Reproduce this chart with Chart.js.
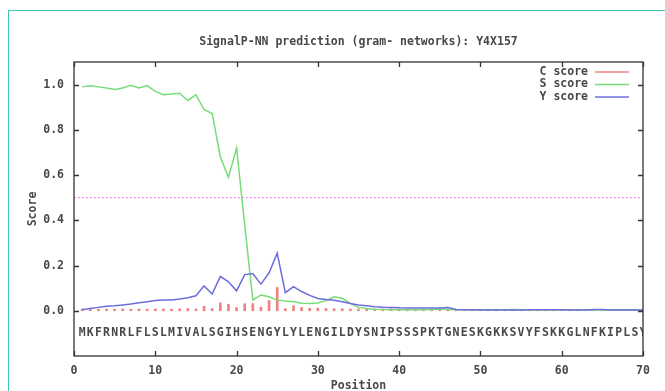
<!DOCTYPE html>
<html>
<head>
<meta charset="utf-8">
<script src="https://cdn.jsdelivr.net/npm/chart.js@4.4.1/dist/chart.umd.min.js"></script>
<style>
    html, body { margin: 0; padding: 0; background: #fff; overflow: hidden; }
    #frame { position: absolute; left: 8px; top: 10px; width: 720px; height: 440px;
             border-left: 1.5px solid #40c8b4; border-top: 1.5px solid #40c8b4; }
    canvas { position: absolute; left: 0; top: 0; }
</style>
</head>
<body>
<div id="frame"></div>
<canvas id="chart" width="665" height="391"></canvas>
<script>
const chartTitle = 'SignalP-NN prediction (gram- networks): Y4X157';
const sequence = 'MKFRNRLFLSLMIVALSGIHSENGYLYLENGILDYSNIPSSSPKTGNESKGKKSVYFSKKGLNFKIPLSY';

const positions = [1, 2, 3, 4, 5, 6, 7, 8, 9, 10, 11, 12, 13, 14, 15, 16, 17, 18, 19, 20,
    21, 22, 23, 24, 25, 26, 27, 28, 29, 30, 31, 32, 33, 34, 35, 36, 37, 38, 39, 40,
    41, 42, 43, 44, 45, 46, 47, 48, 49, 50, 51, 52, 53, 54, 55, 56, 57, 58, 59, 60,
    61, 62, 63, 64, 65, 66, 67, 68, 69, 70];

const cScore = [0.008, 0.008, 0.007, 0.008, 0.007, 0.008, 0.007, 0.008, 0.007, 0.008,
    0.008, 0.007, 0.008, 0.010, 0.008, 0.020, 0.010, 0.035, 0.029, 0.014,
    0.031, 0.032, 0.016, 0.045, 0.103, 0.009, 0.022, 0.014, 0.011, 0.012,
    0.010, 0.009, 0.009, 0.008, 0.008, 0.009, 0.008, 0.008, 0.009, 0.008,
    0.007, 0.007, 0.007, 0.007, 0.007, 0.007, 0.006, 0.006, 0.006, 0.006,
    0.006, 0.006, 0.006, 0.006, 0.006, 0.006, 0.006, 0.006, 0.006, 0.006,
    0.006, 0.006, 0.006, 0.006, 0.006, 0.006, 0.006, 0.006, 0.006, 0.006];

const sScore = [0.990, 0.995, 0.990, 0.985, 0.978, 0.985, 0.997, 0.985, 0.996, 0.970,
    0.955, 0.958, 0.962, 0.930, 0.955, 0.890, 0.872, 0.680, 0.590, 0.720,
    0.380, 0.048, 0.070, 0.062, 0.047, 0.043, 0.040, 0.033, 0.032, 0.034,
    0.045, 0.062, 0.055, 0.033, 0.015, 0.010, 0.007, 0.006, 0.005, 0.005,
    0.005, 0.005, 0.005, 0.006, 0.008, 0.006, 0.005, 0.004, 0.004, 0.003,
    0.003, 0.003, 0.004, 0.006, 0.005, 0.003, 0.003, 0.003, 0.003, 0.003,
    0.003, 0.003, 0.003, 0.003, 0.003, 0.003, 0.003, 0.003, 0.003, 0.003];

const yScore = [0.005, 0.010, 0.015, 0.020, 0.022, 0.026, 0.030, 0.035, 0.040, 0.045,
    0.048, 0.048, 0.052, 0.058, 0.066, 0.110, 0.074, 0.152, 0.128, 0.088,
    0.160, 0.165, 0.118, 0.168, 0.255, 0.080, 0.107, 0.085, 0.068, 0.054,
    0.050, 0.047, 0.040, 0.032, 0.026, 0.022, 0.018, 0.016, 0.015, 0.013,
    0.012, 0.012, 0.012, 0.012, 0.012, 0.014, 0.006, 0.005, 0.004, 0.003,
    0.003, 0.003, 0.003, 0.003, 0.003, 0.005, 0.005, 0.005, 0.005, 0.005,
    0.003, 0.003, 0.003, 0.006, 0.006, 0.003, 0.003, 0.003, 0.003, 0.003];

const cutoff = 0.5;
const cutoffRange = [0, 70];
const xTicks = [0, 10, 20, 30, 40, 50, 60, 70];
const yTicks = [0.0, 0.2, 0.4, 0.6, 0.8, 1.0];
const sequenceLevel = -0.1;

const FONT = "'DejaVu Sans Mono', 'Liberation Mono', monospace";
const FSIZE = 11.5;
const TEXT = '#484848';
const COLORS = { c: '#f28080', s: '#78dc78', y: '#6c6cdc', cut: '#e070e0' };

const points = arr => positions.map((p, i) => ({ x: p, y: arr[i] }));
const tickFont = { family: FONT, size: FSIZE, weight: 'bold' };

// рамка, засечки внутрь, легенда, заголовок и последовательность
const decor = {
    id: 'decor',
    beforeDatasetsDraw(chart) {
        const { ctx, chartArea: a, scales: { x, y } } = chart;
        ctx.save();
        ctx.beginPath();
        ctx.rect(a.left, a.top, a.right - a.left, a.bottom - a.top);
        ctx.clip();
        ctx.font = 'bold ' + FSIZE + 'px ' + FONT;
        ctx.fillStyle = TEXT;
        ctx.textAlign = 'center';
        ctx.textBaseline = 'middle';
        const py = y.getPixelForValue(sequenceLevel);
        for (let i = 0; i < sequence.length; i++) {
            ctx.fillText(sequence[i], x.getPixelForValue(positions[i]), py);
        }
        ctx.restore();
    },
    afterDatasetsDraw(chart) {
        const { ctx, chartArea: a, scales: { x, y } } = chart;
        ctx.save();
        ctx.strokeStyle = '#333';
        ctx.lineWidth = 1.3;
        ctx.strokeRect(a.left, a.top, a.right - a.left, a.bottom - a.top);
        ctx.beginPath();
        x.ticks.forEach(t => {
            const px = Math.round(x.getPixelForValue(t.value)) + 0.5;
            ctx.moveTo(px, a.bottom); ctx.lineTo(px, a.bottom - 5);
            ctx.moveTo(px, a.top); ctx.lineTo(px, a.top + 5);
        });
        y.ticks.forEach(t => {
            const py = Math.round(y.getPixelForValue(t.value)) + 0.5;
            ctx.moveTo(a.left, py); ctx.lineTo(a.left + 5, py);
            ctx.moveTo(a.right, py); ctx.lineTo(a.right - 5, py);
        });
        ctx.stroke();

        ctx.font = 'bold ' + FSIZE + 'px ' + FONT;
        ctx.fillStyle = TEXT;
        ctx.textBaseline = 'middle';
        ctx.textAlign = 'center';
        ctx.fillText(chartTitle, (a.left + a.right) / 2, 42);

        const legend = [['C score', COLORS.c], ['S score', COLORS.s], ['Y score', COLORS.y]];
        ctx.textAlign = 'right';
        legend.forEach(([label, col], i) => {
            const ly = 72 + i * 12.5;
            ctx.fillStyle = TEXT;
            ctx.fillText(label, 588, ly);
            ctx.strokeStyle = col;
            ctx.lineWidth = 1.5;
            ctx.beginPath();
            ctx.moveTo(595, ly); ctx.lineTo(629, ly);
            ctx.stroke();
        });
        ctx.restore();
    }
};

new Chart(document.getElementById('chart'), {
    data: {
        datasets: [
            {
                type: 'line', label: 'cutoff',
                data: cutoffRange.map(v => ({ x: v, y: cutoff })),
                borderColor: COLORS.cut, borderWidth: 1.2, borderDash: [1.5, 2.5],
                pointRadius: 0, order: 4
            },
            {
                type: 'bar', label: 'C score', data: points(cScore),
                backgroundColor: COLORS.c, barThickness: 2, grouped: false, order: 3
            },
            {
                type: 'line', label: 'S score', data: points(sScore),
                borderColor: COLORS.s, borderWidth: 1.5, pointRadius: 0, order: 2
            },
            {
                type: 'line', label: 'Y score', data: points(yScore),
                borderColor: COLORS.y, borderWidth: 1.5, pointRadius: 0, order: 1
            }
        ]
    },
    options: {
        responsive: false,
        animation: false,
        layout: { padding: { left: 0, top: 62, right: 22, bottom: 0 } },
        plugins: { legend: { display: false }, tooltip: { enabled: false } },
        scales: {
            x: {
                type: 'linear', min: 0, max: 70, offset: false,
                afterBuildTicks: s => { s.ticks = xTicks.map(v => ({ value: v })); },
                afterFit: s => { s.height = 35; },
                grid: { display: false, drawTicks: false },
                border: { display: false },
                ticks: { font: tickFont, color: TEXT, padding: 8, maxRotation: 0 },
                title: { display: true, text: 'Position', color: TEXT,
                         font: { ...tickFont, lineHeight: 1 }, padding: { top: 0, bottom: -1 } }
            },
            y: {
                type: 'linear', min: -0.2, max: 1.1,
                afterBuildTicks: s => { s.ticks = yTicks.map(v => ({ value: v })); },
                afterFit: s => { s.width = 74; },
                grid: { display: false, drawTicks: false },
                border: { display: false },
                ticks: { font: tickFont, color: TEXT, padding: 10,
                         callback: v => v.toFixed(1) },
                title: { display: true, text: 'Score', color: TEXT,
                         font: { ...tickFont, lineHeight: 1 },
                         padding: { top: 27, bottom: 0 } }
            }
        }
    },
    plugins: [decor]
});
</script>
</body>
</html>
